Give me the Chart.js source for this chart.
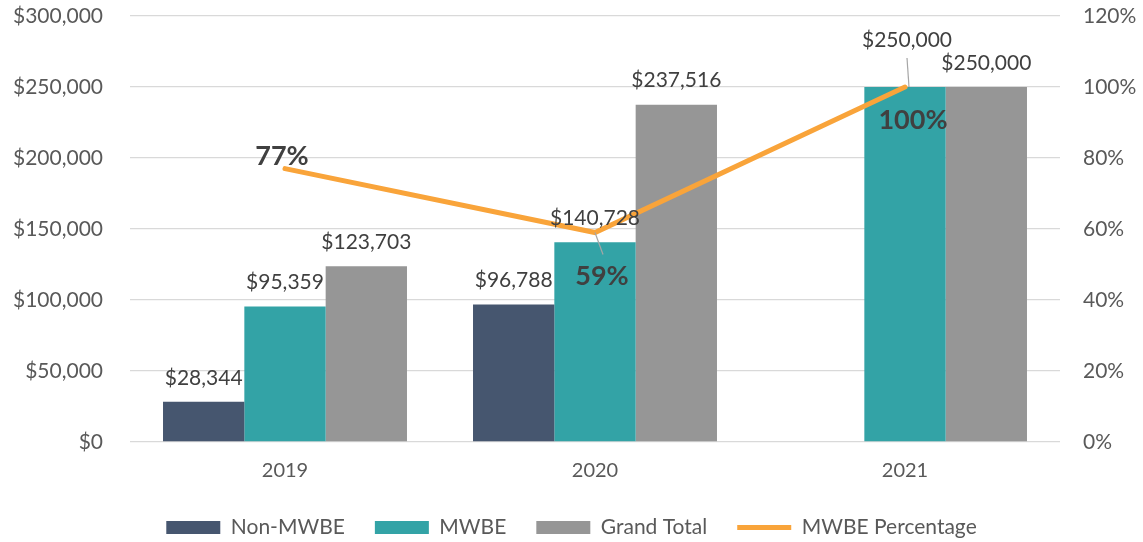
<!DOCTYPE html>
<html>
<head>
<meta charset="utf-8">
<script src="https://cdn.jsdelivr.net/npm/chart.js@4.4.1/dist/chart.umd.min.js"></script>
<style>
  body { margin: 0; background: #fff; }
  #wrap { width: 1143px; height: 542px; position: relative; }
</style>
</head>
<body>
<div id="wrap"><canvas id="mwbeChart"></canvas></div>
<script>
// data
const years = ['2019', '2020', '2021'];
const nonMwbe = [28344, 96788, null];
const mwbe = [95359, 140728, 250000];
const grandTotal = [123703, 237516, 250000];
const mwbePercentage = [77, 59, 100];

const textGrey = '#595959';
const labelGrey = '#404040';

// moved labels: [dx, dy, leader line?]
const labelShifts = {
    1: { 2: [2, -47, true] },
    3: { 0: [-3, -12], 1: [7, 44, true], 2: [8, 33] }
};

// draws the value labels above the bars and the % labels by the line
const valueLabels = {
    id: 'valueLabels',
    afterDatasetsDraw(chart) {
        const ctx = chart.ctx;
        ctx.save();
        ctx.textAlign = 'center';
        ctx.textBaseline = 'middle';
        chart.data.datasets.forEach((ds, i) => {
            const meta = chart.getDatasetMeta(i);
            const isLine = ds.type === 'line';
            meta.data.forEach((el, j) => {
                const v = ds.data[j];
                if (v === null || v === undefined) return;
                const s = (labelShifts[i] && labelShifts[i][j]) || [0, isLine ? -12 : -24];
                const x = el.x + s[0];
                const y = el.y + s[1];
                if (s[2]) {
                    ctx.strokeStyle = '#A6A6A6';
                    ctx.lineWidth = 1.2;
                    ctx.beginPath();
                    if (isLine) {
                        ctx.moveTo(el.x, el.y);
                        ctx.lineTo(x + 1, y - 22);
                    } else {
                        ctx.moveTo(x, y + 18);
                        ctx.lineTo(el.x + 4, el.y);
                    }
                    ctx.stroke();
                }
                if (isLine) {
                    ctx.font = 'bold 27px Lato';
                    ctx.fillStyle = labelGrey;
                    ctx.fillText(v + '%', x, y);
                } else {
                    ctx.font = '21px Lato';
                    ctx.fillStyle = labelGrey;
                    ctx.fillText('$' + v.toLocaleString('en-US'), x, y);
                }
            });
        });
        ctx.restore();
    }
};

function barSet(label, data, color) {
    return {
        label: label,
        data: data,
        backgroundColor: color,
        borderWidth: 0,
        order: 1,
        yAxisID: 'y',
        categoryPercentage: 0.787,
        barPercentage: 1
    };
}

// fixed width and top gap for the two value axes
function fitSide(width) {
    return s => {
        s.width = width;
        s.paddingTop = 16;
        s.paddingBottom = 0;
    };
}

function createChart() {
    Chart.defaults.font.family = 'Lato';
    Chart.defaults.color = textGrey;

    new Chart(document.getElementById('mwbeChart'), {
        type: 'bar',
        data: {
            labels: years,
            datasets: [
                barSet('Non-MWBE', nonMwbe, '#46566F'),
                barSet('MWBE', mwbe, '#33A3A6'),
                barSet('Grand Total', grandTotal, '#969696'),
                {
                    type: 'line',
                    label: 'MWBE Percentage',
                    data: mwbePercentage,
                    borderColor: '#F9A43A',
                    backgroundColor: '#F9A43A',
                    borderWidth: 5,
                    borderCapStyle: 'round',
                    pointRadius: 0,
                    tension: 0,
                    order: 0,
                    yAxisID: 'y1'
                }
            ]
        },
        options: {
            responsive: true,
            maintainAspectRatio: false,
            animation: false,
            layout: { padding: { top: 0, bottom: -6 } },
            plugins: {
                tooltip: { enabled: false },
                legend: {
                    position: 'bottom',
                    labels: {
                        usePointStyle: true,
                        pointStyleWidth: 54,
                        boxHeight: 13,
                        padding: 30,
                        color: textGrey,
                        font: { size: 21 },
                        sort: (a, b) => a.datasetIndex - b.datasetIndex,
                        generateLabels: chart => Chart.defaults.plugins.legend.labels.generateLabels(chart).map(l => {
                            l.pointStyle = chart.data.datasets[l.datasetIndex].type === 'line' ? 'line' : 'rect';
                            return l;
                        })
                    }
                }
            },
            scales: {
                x: {
                    grid: { display: false },
                    border: { display: false },
                    ticks: { font: { size: 20 }, padding: 9 },
                    afterFit: s => { s.height = 45; }
                },
                y: {
                    position: 'left',
                    min: 0,
                    max: 300000,
                    ticks: {
                        stepSize: 50000,
                        padding: 27,
                        font: { size: 21 },
                        callback: v => '$' + v.toLocaleString('en-US')
                    },
                    grid: { color: '#D9D9D9', lineWidth: 1.3, drawTicks: false },
                    border: { display: false },
                    afterFit: fitSide(130)
                },
                y1: {
                    position: 'right',
                    min: 0,
                    max: 120,
                    ticks: {
                        stepSize: 20,
                        padding: 23,
                        font: { size: 21 },
                        callback: v => v + '%'
                    },
                    grid: { display: false, drawTicks: false },
                    border: { display: false },
                    afterFit: fitSide(83)
                }
            }
        },
        plugins: [valueLabels]
    });
}

document.addEventListener('DOMContentLoaded', createChart);
</script>
</body>
</html>
